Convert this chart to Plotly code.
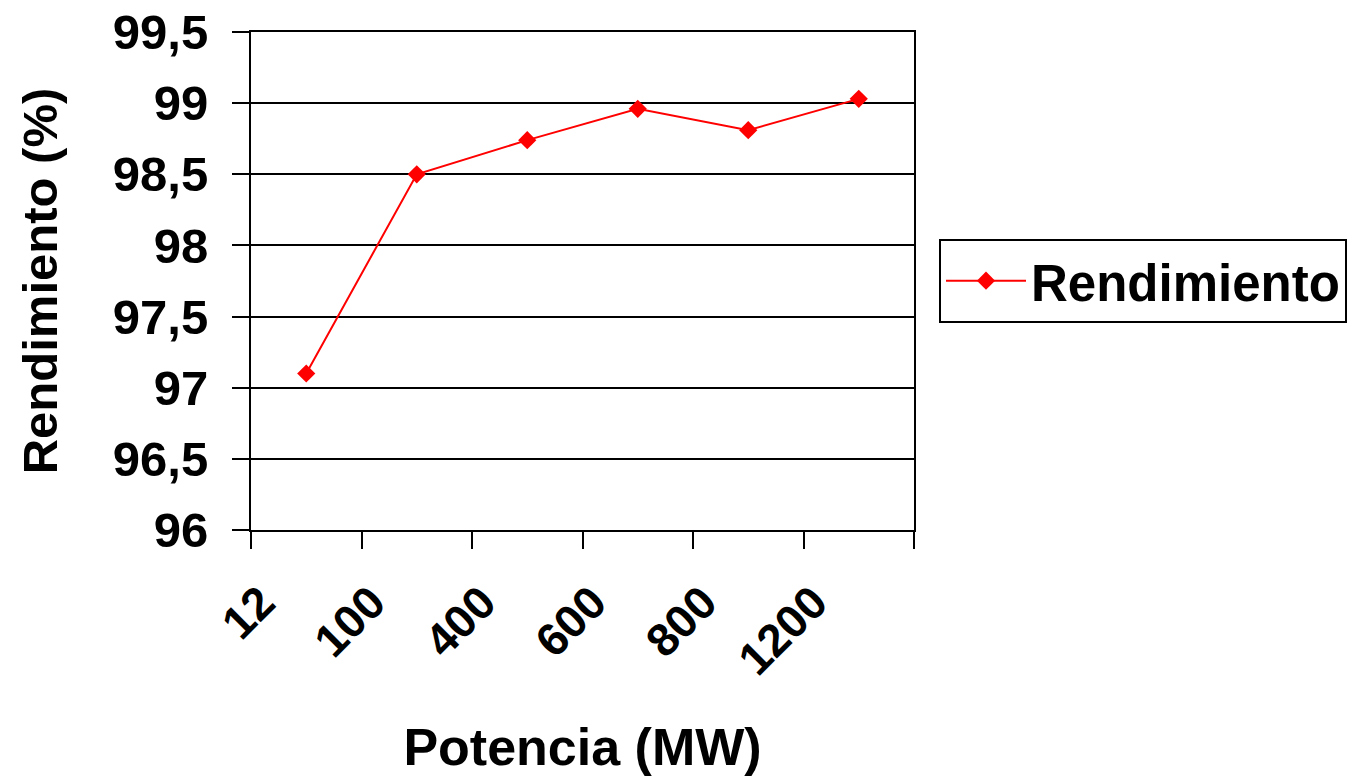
import plotly.graph_objects as go

categories = ["12", "100", "400", "600", "800", "1200"]
rendimiento = [97.10, 98.50, 98.74, 98.96, 98.81, 99.03]
y_ticks = [96, 96.5, 97, 97.5, 98, 98.5, 99, 99.5]

FONT = "Liberation Sans, Arial, sans-serif"

fig = go.Figure()
fig.add_trace(go.Scatter(
    x=categories, y=rendimiento, mode="lines+markers", name="Rendimiento",
    line=dict(color="#FF0000", width=2),
    marker=dict(symbol="diamond", size=14, color="#FF0000"),
))

fig.update_layout(
    width=1365, height=776,
    margin=dict(l=251, r=451, t=32, b=246, autoexpand=False),
    paper_bgcolor="white", plot_bgcolor="white",
    separators=",.",
    font=dict(family=FONT, color="black"),
    showlegend=True,
    legend=dict(
        x=(939 - 251) / 663, xanchor="left", y=0.5, yanchor="middle",
        bordercolor="black", borderwidth=2, bgcolor="white",
        itemwidth=80,
        font=dict(family=FONT, size=51, color="black", weight="bold"),
    ),
)

fig.update_xaxes(
    type="category", range=[-0.5, 5.5],
    showline=True, linecolor="black", linewidth=2, mirror=True,
    ticks="outside", tickson="boundaries", ticklen=17, tickwidth=2, tickcolor="black",
    tickangle=-45,
    tickfont=dict(family=FONT, size=46, color="black", weight="bold"),
    ticklabelshift=-45, ticklabelstandoff=25,
    showgrid=False,
    title=dict(text="Potencia (MW)", font=dict(family=FONT, size=52, color="black", weight="bold"), standoff=58),
)
fig.update_yaxes(
    range=[96, 99.5], tickvals=y_ticks,
    showline=True, linecolor="black", linewidth=2, mirror=True,
    ticks="outside", ticklen=17, tickwidth=2, tickcolor="black",
    tickfont=dict(family=FONT, size=49, color="black", weight="bold"),
    ticklabelstandoff=14,
    showgrid=True, gridcolor="black", gridwidth=2,
    zeroline=False,
    title=dict(text="Rendimiento (%)", font=dict(family=FONT, size=49, color="black", weight="bold"), standoff=40),
)

fig.write_html("out.html")
